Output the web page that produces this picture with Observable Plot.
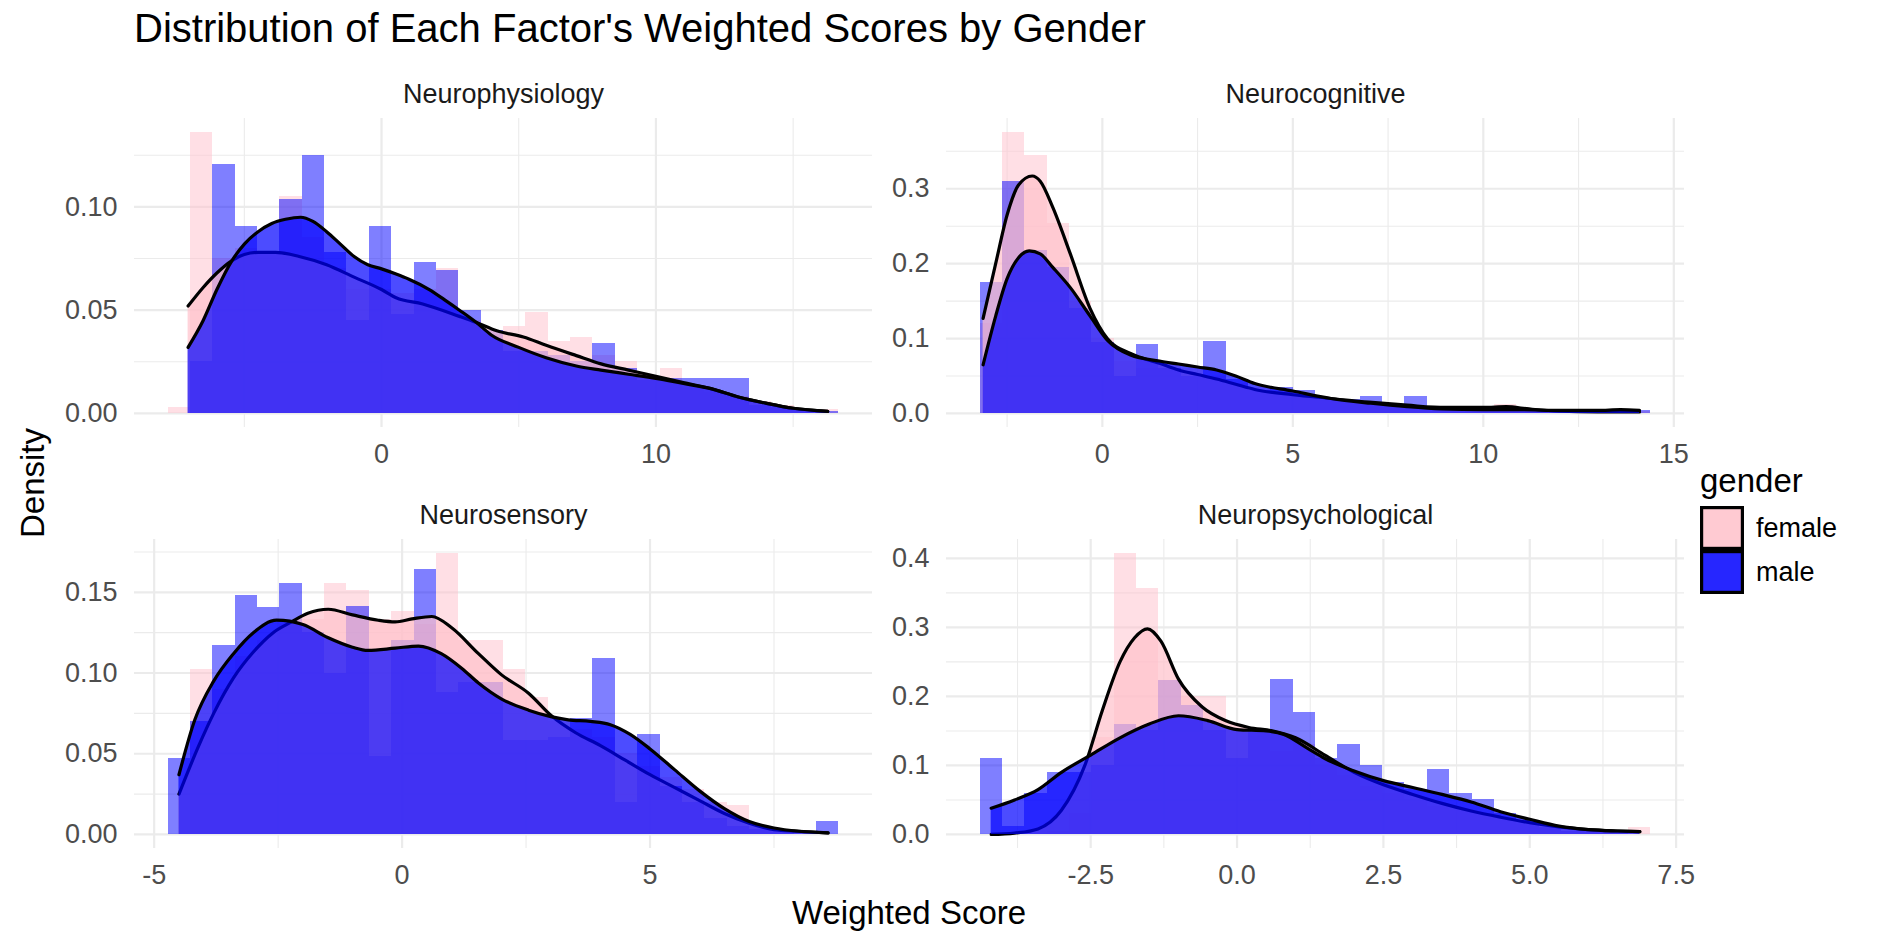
<!DOCTYPE html>
<html><head><meta charset="utf-8">
<script src="https://cdn.jsdelivr.net/npm/d3@7"></script>
<script src="https://cdn.jsdelivr.net/npm/@observablehq/plot@0.6"></script>
<style>
html,body{margin:0;padding:0;background:#fff;}
#chart{position:relative;width:1901px;height:946px;overflow:hidden;background:#fff;font-family:"Liberation Sans",Arial,Helvetica,sans-serif;}
</style></head><body><div id="chart"></div>
<script>
// ---------- data ----------
const facetNames = ["Neurophysiology", "Neurocognitive", "Neurosensory", "Neuropsychological"];
const genders = ["female", "male"];

// Neurophysiology
const physBinStart = -7.78, physBinWidth = 0.815;
const physFemaleHist = [0.003,0.136,0.075,0.08,0.078,0.105,0.085,0.07,0.06,0.06,0.058,0.06,0.0704,0.045,0.038,0.042,0.049,0.035,0.037,0.028,0.025,0.018,0.022,0.012,0.01,0.008,0.006,0.004,0.002,0.002];
const physMaleHist   = [0,0.025,0.1207,0.0904,0.078,0.1035,0.1249,0.078,0.045,0.0904,0.048,0.073,0.069,0.05,0.04,0.03,0.03,0.028,0.025,0.034,0.022,0.016,0.017,0.017,0.017,0.017,0.004,0.003,0.002,0.001];
const physFemaleDensX = [-7.05,-6.5,-6.0,-5.45,-5.0,-4.5,-3.86,-3.0,-2.0,-1.0,0.0,0.53,1.5,2.84,3.46,4.2,5.17,6.0,7.1,8.0,9.0,10.0,11.0,12.0,13.0,14.0,15.0,16.26];
const physFemaleDensY = [0.052,0.061,0.068,0.074,0.077,0.078,0.078,0.076,0.072,0.066,0.060,0.056,0.053,0.047,0.044,0.040,0.037,0.033,0.028,0.024,0.021,0.018,0.015,0.012,0.008,0.005,0.0025,0.001];
const physMaleDensX = [-7.05,-6.5,-6.0,-5.45,-5.0,-4.5,-4.0,-3.5,-2.95,-2.5,-2.0,-1.5,-1.0,-0.5,0.0,0.53,1.0,1.74,2.3,2.84,3.46,4.0,5.0,6.0,7.1,8.0,9.0,10.0,11.0,12.0,13.0,14.0,15.0,16.26];
const physMaleDensY = [0.032,0.045,0.060,0.074,0.082,0.088,0.092,0.094,0.095,0.093,0.088,0.082,0.076,0.072,0.070,0.0675,0.065,0.060,0.055,0.050,0.044,0.038,0.032,0.027,0.023,0.021,0.019,0.017,0.0145,0.012,0.008,0.005,0.0025,0.001];

// Neurocognitive
const cogBinStart = -3.21, cogBinWidth = 0.587;
const cogFemaleHist = [0.12,0.375,0.345,0.253,0.15,0.10,0.07,0.06,0.065,0.06,0.05,0.04,0.035,0.025,0.025,0.02,0.015,0.01,0.01,0.008,0.006,0.006,0.005,0.012,0.005,0.003,0.002,0.002,0.002,0.002];
const cogMaleHist   = [0.175,0.309,0.218,0.195,0.14,0.095,0.05,0.092,0.06,0.05,0.0957,0.045,0.03,0.035,0.03,0.02,0.018,0.023,0.01,0.023,0.005,0.004,0.004,0.003,0.003,0.002,0.002,0.002,0.003,0.004];
const cogFemaleDensX = [-3.13,-2.8,-2.5,-2.2,-1.84,-1.63,-1.3,-0.84,-0.32,0.13,0.74,1.5,2.0,2.5,3.0,3.5,4.0,5.0,6.0,7.0,8.0,9.0,10.0,10.6,11.2,12.0,13.0,14.1];
const cogFemaleDensY = [0.127,0.20,0.265,0.305,0.317,0.31,0.275,0.213,0.14,0.10,0.08,0.067,0.058,0.052,0.046,0.039,0.032,0.025,0.02,0.015,0.011,0.008,0.008,0.009,0.006,0.003,0.002,0.002];
const cogMaleDensX = [-3.13,-2.8,-2.5,-2.2,-1.92,-1.63,-1.3,-0.84,-0.32,0.13,0.74,1.5,2.0,2.5,3.0,3.5,4.0,5.0,6.0,7.05,8.0,8.9,10.0,11.0,12.0,13.0,13.6,14.1];
const cogMaleDensY = [0.065,0.13,0.18,0.208,0.217,0.213,0.195,0.168,0.13,0.098,0.078,0.07,0.066,0.062,0.058,0.05,0.04,0.03,0.02,0.0136,0.009,0.006,0.005,0.005,0.004,0.004,0.005,0.004];

// Neurosensory
const senBinStart = -4.72, senBinWidth = 0.451;
const senFemaleHist = [0,0.102,0.09,0.11,0.12,0.13,0.133,0.1557,0.151,0.133,0.138,0.13,0.174,0.12,0.12,0.102,0.085,0.07,0.065,0.06,0.05,0.042,0.035,0.028,0.02,0.018,0.005,0.002,0,0];
const senMaleHist   = [0.047,0.07,0.117,0.148,0.1405,0.1557,0.125,0.10,0.141,0.048,0.12,0.164,0.088,0.094,0.094,0.058,0.058,0.06,0.072,0.109,0.02,0.062,0.03,0.02,0.01,0.005,0.003,0.002,0,0.008];
const senFemaleDensX = [-4.5,-4.1,-3.8,-3.4,-3.0,-2.6,-2.23,-1.9,-1.49,-1.0,-0.48,-0.14,0.2,0.6,1.0,1.54,2.0,2.55,3.03,3.5,4.0,4.5,5.0,5.5,6.0,6.5,7.0,7.5,8.0,8.59];
const senFemaleDensY = [0.025,0.055,0.075,0.097,0.113,0.125,0.1317,0.137,0.1395,0.136,0.1327,0.1317,0.1335,0.135,0.128,0.112,0.099,0.0875,0.073,0.063,0.055,0.046,0.037,0.029,0.021,0.013,0.007,0.003,0.002,0.001];
const senMaleDensX = [-4.5,-4.18,-3.8,-3.4,-3.0,-2.53,-2.0,-1.5,-1.0,-0.69,-0.14,0.33,0.79,1.2,1.54,2.0,2.55,3.0,3.35,3.8,4.2,4.6,5.0,5.5,6.0,6.5,7.0,7.5,8.0,8.59];
const senMaleDensY = [0.037,0.071,0.095,0.112,0.125,0.1327,0.130,0.122,0.116,0.114,0.1154,0.1167,0.112,0.103,0.0938,0.084,0.077,0.073,0.071,0.070,0.068,0.062,0.053,0.040,0.027,0.016,0.008,0.004,0.002,0.001];

// Neuropsychological
const psyBinStart = -4.39, psyBinWidth = 0.382;
const psyFemaleHist = [0,0,0,0.005,0.03,0.14,0.407,0.357,0.223,0.2,0.2,0.15,0.15,0.12,0.13,0.10,0.085,0.07,0.06,0.05,0.04,0.035,0.03,0.02,0.015,0.01,0.005,0.004,0.003,0.01];
const psyMaleHist   = [0.11,0.012,0.06,0.09,0.09,0.10,0.16,0.15,0.223,0.187,0.15,0.11,0.15,0.224,0.177,0.11,0.13,0.10,0.075,0.065,0.094,0.06,0.05,0.03,0.02,0.01,0.005,0.004,0.002,0];
const psyFemaleDensX = [-4.2,-3.8,-3.4,-3.0,-2.6,-2.3,-2.0,-1.75,-1.53,-1.3,-1.0,-0.6,-0.2,0.2,0.6,1.0,1.5,2.0,2.5,3.0,3.5,4.0,4.5,5.0,5.5,6.0,6.5,6.88];
const psyFemaleDensY = [0.0,0.002,0.008,0.035,0.1,0.18,0.25,0.285,0.298,0.28,0.225,0.185,0.165,0.155,0.15,0.14,0.115,0.09,0.072,0.058,0.045,0.034,0.025,0.017,0.011,0.007,0.005,0.004];
const psyMaleDensX = [-4.2,-3.8,-3.4,-3.0,-2.5,-2.0,-1.5,-1.0,-0.5,0.0,0.5,0.8,1.2,1.5,2.0,2.5,3.0,3.5,4.0,4.5,5.0,5.5,6.0,6.5,6.88];
const psyMaleDensY = [0.038,0.05,0.065,0.09,0.115,0.14,0.16,0.172,0.165,0.152,0.15,0.145,0.125,0.11,0.092,0.078,0.068,0.058,0.047,0.033,0.022,0.012,0.007,0.005,0.004];

// tick labels
const physXTicks = [0, 10], physXMinor = [-5, 5, 15];
const physYTicks = [0, 0.05, 0.10], physYMinor = [0.025, 0.075, 0.125];
const cogXTicks = [0, 5, 10, 15], cogXMinor = [-2.5, 2.5, 7.5, 12.5];
const cogYTicks = [0, 0.1, 0.2, 0.3], cogYMinor = [0.05, 0.15, 0.25, 0.35];
const senXTicks = [-5, 0, 5], senXMinor = [-2.5, 2.5, 7.5];
const senYTicks = [0, 0.05, 0.10, 0.15], senYMinor = [0.025, 0.075, 0.125, 0.175];
const psyXTicks = [-2.5, 0, 2.5, 5, 7.5], psyXMinor = [-3.75, -1.25, 1.25, 3.75, 6.25];
const psyYTicks = [0, 0.1, 0.2, 0.3, 0.4], psyYMinor = [0.05, 0.15, 0.25, 0.35];

const fillColors = ["pink", "blue"];

// ---------- layout ----------
const PW = 738, PH = 309, MT = 50, MB = 50, MR = 40;
const FONT = "'Liberation Sans', Arial, Helvetica, sans-serif";
const HIST_OPACITY = 0.5, DENS_OPACITY = 0.7, LINE_W = 3.2;
const chart = document.getElementById("chart");

function makePanel(cfg) {
  const n = cfg.female.length;
  const bins = d3.range(n).map(i => ({x1: cfg.start + i * cfg.width, x2: cfg.start + (i + 1) * cfg.width, f: cfg.female[i], m: cfg.male[i]}));
  const fd = cfg.fx.map((x, i) => ({x, y: cfg.fy[i]}));
  const md = cfg.mx.map((x, i) => ({x, y: cfg.my[i]}));
  const lo = cfg.start, hi = cfg.start + n * cfg.width, pad = 0.05 * (hi - lo);
  const maxY = d3.max([...cfg.female, ...cfg.male, ...cfg.fy, ...cfg.my]);
  const grid = "#EBEBEB";
  const plot = Plot.plot({
    width: cfg.marginLeft + PW + MR,
    height: MT + PH + MB,
    marginLeft: cfg.marginLeft, marginRight: MR, marginTop: MT, marginBottom: MB,
    x: {domain: [lo - pad, hi + pad], label: null},
    y: {domain: [-0.05 * maxY, 1.05 * maxY], label: null},
    style: {fontFamily: FONT, fontSize: "27px", background: "none", overflow: "visible"},
    marks: [
      Plot.ruleX(cfg.xMinor, {stroke: grid, strokeWidth: 1.1}),
      Plot.ruleY(cfg.yMinor, {stroke: grid, strokeWidth: 1.1}),
      Plot.ruleX(cfg.xTicks, {stroke: grid, strokeWidth: 2.2}),
      Plot.ruleY(cfg.yTicks, {stroke: grid, strokeWidth: 2.2}),
      Plot.rectY(bins, {x1: "x1", x2: "x2", y: "f", fill: fillColors[0], fillOpacity: HIST_OPACITY, shapeRendering: "crispEdges"}),
      Plot.rectY(bins, {x1: "x1", x2: "x2", y: "m", fill: fillColors[1], fillOpacity: HIST_OPACITY, shapeRendering: "crispEdges"}),
      Plot.areaY(fd, {x: "x", y: "y", fill: fillColors[0], fillOpacity: DENS_OPACITY, curve: "monotone-x"}),
      Plot.lineY(fd, {x: "x", y: "y", stroke: "black", strokeWidth: LINE_W, curve: "monotone-x"}),
      Plot.areaY(md, {x: "x", y: "y", fill: fillColors[1], fillOpacity: DENS_OPACITY, curve: "monotone-x"}),
      Plot.lineY(md, {x: "x", y: "y", stroke: "black", strokeWidth: LINE_W, curve: "monotone-x"}),
      Plot.axisX(cfg.xTicks, {tickSize: 0, tickPadding: 16, fontSize: 27, fill: "#4D4D4D", tickFormat: cfg.fmtX, label: null}),
      Plot.axisY(cfg.yTicks, {tickSize: 0, tickPadding: 17, fontSize: 27, fill: "#4D4D4D", tickFormat: cfg.fmtY, label: null}),
      Plot.text([cfg.title], {text: d => d, frameAnchor: "top", lineAnchor: "bottom", dy: -16, fontSize: 27, fill: "#1A1A1A"})
    ]
  });
  plot.style.position = "absolute";
  plot.style.left = cfg.left + "px";
  plot.style.top = cfg.top + "px";
  chart.appendChild(plot);
}

const f2 = v => v.toFixed(2), f1 = v => v.toFixed(1), f0 = v => String(v);
const leftCol = {left: 0, marginLeft: 134};
const rightCol = {left: 872, marginLeft: 74};
const topRow = 118 - MT, botRow = 539 - MT;

makePanel({...leftCol, top: topRow, title: facetNames[0], start: physBinStart, width: physBinWidth,
  female: physFemaleHist, male: physMaleHist, fx: physFemaleDensX, fy: physFemaleDensY, mx: physMaleDensX, my: physMaleDensY,
  xTicks: physXTicks, xMinor: physXMinor, yTicks: physYTicks, yMinor: physYMinor, fmtX: f0, fmtY: f2});
makePanel({...rightCol, top: topRow, title: facetNames[1], start: cogBinStart, width: cogBinWidth,
  female: cogFemaleHist, male: cogMaleHist, fx: cogFemaleDensX, fy: cogFemaleDensY, mx: cogMaleDensX, my: cogMaleDensY,
  xTicks: cogXTicks, xMinor: cogXMinor, yTicks: cogYTicks, yMinor: cogYMinor, fmtX: f0, fmtY: f1});
makePanel({...leftCol, top: botRow, title: facetNames[2], start: senBinStart, width: senBinWidth,
  female: senFemaleHist, male: senMaleHist, fx: senFemaleDensX, fy: senFemaleDensY, mx: senMaleDensX, my: senMaleDensY,
  xTicks: senXTicks, xMinor: senXMinor, yTicks: senYTicks, yMinor: senYMinor, fmtX: f0, fmtY: f2});
makePanel({...rightCol, top: botRow, title: facetNames[3], start: psyBinStart, width: psyBinWidth,
  female: psyFemaleHist, male: psyMaleHist, fx: psyFemaleDensX, fy: psyFemaleDensY, mx: psyMaleDensX, my: psyMaleDensY,
  xTicks: psyXTicks, xMinor: psyXMinor, yTicks: psyYTicks, yMinor: psyYMinor, fmtX: f1, fmtY: f1});

// ---------- titles & legend ----------
const ov = d3.select(chart).append("svg")
  .attr("width", 1901).attr("height", 946)
  .style("position", "absolute").style("left", 0).style("top", 0)
  .style("font-family", FONT).style("pointer-events", "none");

ov.append("text").attr("x", 134).attr("y", 42).attr("font-size", 40).attr("fill", "#000")
  .text("Distribution of Each Factor's Weighted Scores by Gender");
ov.append("text").attr("transform", "translate(44,483) rotate(-90)").attr("text-anchor", "middle")
  .attr("font-size", 33).attr("fill", "#000").text("Density");
ov.append("text").attr("x", 909).attr("y", 924).attr("text-anchor", "middle")
  .attr("font-size", 33).attr("fill", "#000").text("Weighted Score");

const lg = ov.append("g").attr("transform", "translate(1700,0)");
lg.append("text").attr("x", 0).attr("y", 492).attr("font-size", 33).attr("fill", "#000").text("gender");
const keySize = 44, keyTop = 506;
genders.forEach((g, i) => {
  const y0 = keyTop + i * keySize;
  lg.append("rect").attr("x", 0).attr("y", y0).attr("width", keySize).attr("height", keySize)
    .attr("fill", fillColors[i]).attr("fill-opacity", HIST_OPACITY);
  lg.append("rect").attr("x", 1.6).attr("y", y0 + 1.6).attr("width", keySize - 3.2).attr("height", keySize - 3.2)
    .attr("fill", fillColors[i]).attr("fill-opacity", DENS_OPACITY).attr("stroke", "#000").attr("stroke-width", LINE_W);
  lg.append("text").attr("x", keySize + 12).attr("y", y0 + keySize / 2).attr("dy", "0.35em")
    .attr("font-size", 27).attr("fill", "#000").text(g);
});
</script></body></html>
